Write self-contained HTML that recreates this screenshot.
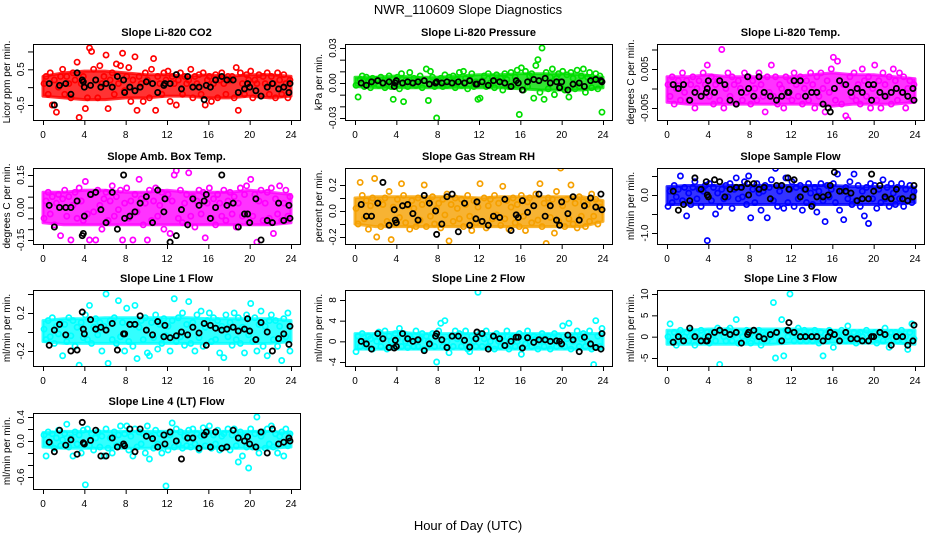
<!DOCTYPE html>
<html><head><meta charset="utf-8">
<style>
html,body{margin:0;padding:0;background:#fff;}
svg{display:block;font-family:"Liberation Sans",Arial,sans-serif;}
</style></head>
<body>
<svg id="chart" width="936" height="540" viewBox="0 0 936 540">
<rect width="936" height="540" fill="#fff"/>
<text x="468" y="14" text-anchor="middle" font-size="13">NWR_110609  Slope Diagnostics</text>
<text x="468" y="530" text-anchor="middle" font-size="13">Hour of Day (UTC)</text>
</svg>
<script>
const blackTimes=[0.6,1.1,1.6,2.2,2.7,3.3,3.8,3.9,4.0,4.6,5.1,5.6,6.1,6.7,7.2,7.8,7.9,8.4,8.9,9.4,10.0,10.6,11.1,11.7,11.8,12.3,12.9,13.4,14.0,14.5,15.1,15.6,15.8,16.2,16.7,17.3,17.8,18.4,18.9,19.5,19.8,20.0,20.6,21.1,21.7,22.2,22.8,23.3,23.8,23.9];
const xTicks=[0,4,8,12,16,20,24];
const bandHours=[0,2,4,6,8,10,12,14,16,18,20,22,24];

const co2Vals=[0.1,0.3,-0.2,0.4,-0.5,0.2,-0.7,0.0,0.3,0.5,-0.2,0.3,0.1,-0.3,0.4,0.2,0.7,-0.85,0.1,0.3,-0.6,-0.3,1.1,1.0,0.5,0.2,-0.3,0.6,0.1,0.3,0.9,-0.6,0.2,0.4,-0.2,0.65,0.1,0.6,0.95,-0.1,0.3,0.55,-0.4,0.2,0.85,-0.65,0.3,0.1,-0.4,0.4,0.2,-0.3,0.5,0.8,-0.65,0.3,0.1,-0.2,0.4,0.2,0.45,-0.4,0.3,0.1,-0.5,0.2,0.4,-0.2,0.3,0.1,0.2,0.5,-0.3,0.3,0.1,0.35,-0.2,0.4,-0.5,0.2,0.3,-0.4,0.1,0.35,-0.3,0.2,0.4,0.1,-0.2,0.3,0.2,0.3,-0.3,0.55,-0.65,0.4,0.1,-0.2,0.35,0.2,0.45,-0.3,0.2,0.1,0.35,-0.25,0.3,0.1,0.4,-0.2,0.3,0.1,-0.3,0.4,0.2,-0.2,0.35,0.1,-0.3,0.2];
const co2Black=[0.1,-0.5,0.05,0.1,-0.2,0.4,0.2,0.15,0.0,0.05,0.2,0.0,0.1,0.0,0.3,0.2,-0.15,0.0,-0.1,0.0,0.15,0.1,-0.15,0.05,0.1,0.1,0.35,-0.05,0.3,0.0,0.0,-0.35,0.05,0.0,0.2,0.3,0.2,0.2,-0.15,-0.05,0.1,0.0,-0.1,-0.25,0.0,0.1,-0.05,0.0,-0.15,0.1];
const co2Lo=[-0.25,-0.3,-0.35,-0.35,-0.3,-0.3,-0.25,-0.25,-0.3,-0.3,-0.25,-0.3,-0.25];
const co2Hi=[0.3,0.4,0.45,0.45,0.4,0.35,0.35,0.3,0.35,0.3,0.35,0.35,0.3];
const presVals=[-2,-12,3,6,-3,5,2,-4,4,0,3,-2,5,0,-4,2,6,-3,-14,1,5,-5,8,-16,2,-3,9,0,4,-2,3,6,-4,2,12,-15,10,5,-3,-30,2,4,-3,7,-2,5,0,6,-4,3,9,-2,10,4,-5,3,8,-3,1,-14,-13,2,6,-3,8,0,5,-4,7,2,4,-6,8,3,-3,9,-2,5,11,-27,13,-6,10,-3,6,8,-13,15,20,-8,30,-14,9,-5,5,12,-10,4,8,-3,10,-6,7,-12,9,4,-5,11,-3,6,12,-8,5,9,-4,3,8,-5,6,-25];
const presBlack=[0,-2,1,2,0,1,-3,0,2,0,1,0,1,2,-1,0,1,0,1,0,1,0,2,-1,-1,1,-2,2,1,0,-3,2,0,-6,1,3,2,4,0,1,-4,1,-6,-1,0,-3,2,3,2,1];
const presLo=[-3,-4,-4,-4,-4,-4,-4,-4,-5,-6,-6,-6,-4];
const presHi=[5,5,6,5,5,6,7,7,8,8,8,7,5];
const tempVals=[1,-2,3,-4,0,2,-3,4,-1,2,-3,1,3,-5,0,2,-2,4,1,6,-2,3,-4,1,2,-3,10,-5,0,4,-2,3,1,-4,2,0,-3,4,-1,3,-4,2,0,-3,4,1,-2,-6,3,-1,6,-2,3,-4,1,0,-5,3,-2,2,-3,4,1,-2,3,-4,0,2,-3,4,1,-5,3,-2,4,0,-6,2,-1,5,8,-3,7,2,-4,1,-7,-8,3,-2,4,-3,1,-4,5,2,-2,3,-5,0,6,-3,2,-5,4,1,-2,3,-4,5,2,-3,4,-1,3,-5,0,2,-3,1];
const tempBlack=[1,0,1,-3,-1,-2,-1,0,2,-1,2,1,-3,-4,-1,3,0,-2,3,-1,-2,-3,-2,-1,-1,2,2,-2,-1,-1,-4,-5,-6,0,2,1,-1,0,-1,1,-3,1,-1,-2,-1,0,-1,-2,0,-3];
const tempLo=[-3.5,-4,-4,-4,-4,-4,-4,-4,-4.5,-4,-4,-4,-3.5];
const tempHi=[3,3,3.5,3,3,3,3,3.5,4,3.5,3.5,3,2.5];
const ambVals=[-5,3,7,-3,5,-8,2,6,-13,4,8,-4,5,-15,1,7,-5,9,3,-6,12,-3,-15,6,-2,-15,8,1,-10,4,7,-6,3,10,-4,5,-1,8,-15,2,9,-5,3,-15,6,-2,13,4,-8,2,-15,8,-6,3,9,-4,1,7,-10,4,6,-12,3,15,17,-5,8,-7,2,6,16,-4,5,-9,3,8,-3,7,-14,2,9,-5,4,-8,6,2,-4,8,-6,3,7,-3,5,-9,2,9,-4,6,10,-7,13,-4,6,-16,3,8,-6,2,7,-5,9,-12,4,-3,10,-6,2,8,-4,5];
const ambBlack=[1,-9,0,0,0,3,-13,-12,-4,6,7,-1,-7,7,-10,15,-5,-4,-2,2,5,-7,8,-2,4,-16,-13,-1,-8,4,1,3,6,-5,0,15,1,2,-9,-3,-3,-7,4,-15,-6,-7,2,-6,1,-5];
const ambLo=[-7,-8,-8,-8,-8,-8,-8,-8,-8,-8,-8,-8,-7];
const ambHi=[7,7,8,8,7,7,8,7,7,7,8,7,6];
const rhVals=[2,-10,22,12,-6,8,-14,4,10,25,-20,7,-12,5,10,-8,15,-22,3,-10,9,-5,21,12,-9,4,-14,8,2,-12,10,-7,5,20,-12,8,-4,11,-10,2,6,-13,9,-3,13,-23,5,-8,10,2,-6,9,-12,5,12,-4,-15,8,-9,3,21,-8,10,-13,4,9,-6,12,-3,6,-11,19,-6,8,-14,3,10,-9,5,-12,12,-4,-15,7,10,-9,4,13,-7,21,-12,6,-25,10,-5,9,-17,15,-8,33,4,-12,9,-6,20,-10,6,-13,11,-4,7,-12,5,-8,13,-4,9,-10,3,1];
const rhBlack=[5,-4,-4,6,22,-11,1,-7,-9,4,5,-2,-7,12,6,0,-18,-10,11,13,-16,6,-11,-6,7,-8,-11,-4,-5,9,-15,-3,-5,8,-1,4,13,-4,4,-7,-11,7,-2,11,-7,4,10,3,13,1];
const rhLo=[-10,-12,-12,-12,-12,-12,-12,-12,-12,-12,-12,-12,-8];
const rhHi=[10,11,11,11,11,11,10,11,11,11,11,11,8];
const sfVals=[-30,10,-20,25,-5,15,50,-15,20,-55,5,-25,20,35,-10,15,-30,10,25,-120,30,-15,20,-50,5,-30,15,-10,25,-5,30,-35,15,45,-10,20,-5,35,-25,50,-60,15,-20,30,5,-40,10,25,-60,20,40,-15,70,-30,10,25,-35,45,-20,15,35,-30,20,-10,25,-40,15,-20,30,5,-25,20,-45,10,30,-15,-70,25,-5,15,30,-20,55,-40,10,-65,20,-10,35,-25,55,-15,25,-30,10,-55,20,-75,30,-10,25,-35,15,-20,40,-10,20,-30,30,5,-25,20,-10,30,-30,15,-15,25,-20,10];
const sfBlack=[10,-40,-25,-15,45,15,35,0,-5,40,35,-5,15,20,20,30,0,30,15,20,-10,25,25,45,15,40,-5,15,-30,-5,-5,0,25,60,10,10,5,-15,-10,-10,55,10,25,-5,-10,15,-10,-15,-5,25];
const sfLo=[-25,-25,-25,-25,-25,-25,-25,-25,-25,-25,-25,-25,-20];
const sfHi=[22,25,25,25,25,25,25,25,25,22,22,22,20];
const l1Vals=[3,-8,12,-5,15,-12,6,-2,10,-25,8,-10,15,-4,12,-15,5,-35,10,-6,18,-8,28,-12,5,14,-3,10,-20,6,40,-33,12,-8,15,-12,33,-5,10,-20,25,-10,8,-15,28,-28,5,12,-8,15,-22,-25,10,-6,18,-18,8,-12,14,-4,6,-20,12,35,-10,15,-5,20,-14,8,32,-12,10,-20,18,-6,22,-15,5,12,20,-10,15,-8,12,-22,6,-27,18,-5,10,-14,20,-8,15,-12,5,-22,18,-3,30,-10,15,-20,8,22,-15,6,-25,12,18,-8,12,-15,6,-30,14,-5,20,-20];
const l1Black=[-14,2,8,-3,-20,-19,21,3,-2,13,3,5,2,9,-19,-2,-2,8,8,17,2,-3,11,-5,7,-6,-4,0,-3,5,-1,9,-14,7,4,2,3,5,1,3,14,1,-8,10,0,-20,-7,-2,-13,6];
const l1Lo=[-10,-12,-12,-12,-12,-12,-12,-12,-12,-12,-12,-12,-10];
const l1Hi=[12,14,14,15,15,15,15,15,14,14,14,14,12];
const l2Vals=[-2,1,-1,1.5,0,-1,1,0.5,-1.5,1,0,1.8,-1,0.5,2,-1.5,1,0,-1,1.5,0.5,2.5,-1,1.5,0,-1.2,1,0.5,-1,2,-1,0.5,1.5,-1.5,1,0,-0.5,1.5,-1,-4,2,3.5,-1,4,0,-2.2,1,-1,2,0.5,1.5,-1,0,2,-1.5,-2,1,0,-1,9.5,1.5,-1,0.5,2,-1,0,1,-1.5,1.5,0,-1,1,0,2,-1.5,0.5,1,-1,0,1.5,-2.5,1,-0.5,2,0,-1,1,0.5,-1.5,0,1.5,-1,0.5,1,-1.5,0,1.5,-1,1,-0.5,3,-1,0.5,3.5,-1.5,0,1,2,-1,0.5,1.5,-1,0,2,-1.5,-4.5,4,1,-1,2.5];
const l2Black=[0,-0.5,-1.5,1.5,0.5,-1.2,-1.3,0.2,-1,1.5,0.5,0,0.3,-1.8,-0.5,1,1.5,0.3,-1.2,1,1,0.2,-1.1,0.5,1.8,1.5,-1.5,1,0.5,-0.8,0,0.8,0.8,-1.3,0.7,-0.2,0.3,0.3,0,0.1,0,-0.5,1.2,0.3,-2,0.8,-0.5,-1.2,-1.5,1.5];
const l2Lo=[-1.5,-1.5,-1.5,-1.5,-1.5,-1.5,-1.5,-1.5,-1.5,-1.5,-1.5,-1.5,-1.5];
const l2Hi=[1.5,1.5,1.8,1.5,1.5,1.5,1.5,1.5,1.5,1.5,1.5,1.5,1.5];
const l3Vals=[0,3,-1,1,-2,0.5,1.5,-1,0,1,-1,1.5,0,-2,1,-0.5,1.5,-1,0,1,-1.5,1,0.5,-1,2,-6.5,1,0,-1,1.5,2,-1,0.5,4,-1.5,1,0,-1,1.5,0,-1.5,1,0,-1,1.5,-2,1,0.5,-1,1,0,8,-5,1,-1,4,-4.5,1.5,0,10,1,-1,0.5,2,-1,0,1.5,-1,0,1,-1,1.5,0,-1.5,1,-4.5,0.5,-1,1.5,0,-2.5,1,0,-1,1.5,0.5,-1,2.5,0,-1,1,-1.5,0.5,1,0,-1,1.5,-1,0.5,0,1,-1.5,0.5,1,-1,2,0,-2.5,1,-0.5,1,-1,0.5,1.5,-1,0,-3,1,3,-0.5];
const l3Black=[-1.3,0,-1,2,0,-1,-1,-1,0,1,1.5,1,0.5,1,-1.5,0.5,1,1.5,0,-0.5,0.5,1,-1,1.5,3.3,1,0,0,0,0,-1,0,1,0.5,-1,1,-0.5,-0.5,-1,-1,0,0,1,0.5,-2,0,0,-2,-1,2.7];
const l3Lo=[-1.8,-1.8,-1.8,-1.8,-1.8,-1.8,-1.5,-1.5,-1.5,-1.5,-1.5,-1.5,-1.8];
const l3Hi=[1.5,1.5,1.8,1.8,1.8,1.8,1.8,1.8,1.5,1.5,1.5,1.5,1.5];
const l4Vals=[10,-25,15,-5,12,-12,5,18,-8,2,12,28,-10,5,-25,15,-5,10,-20,18,-73,20,-8,12,-15,5,15,-10,8,-25,20,-12,5,-20,15,-8,10,25,-5,12,25,-15,8,-25,20,-10,15,-5,12,-20,25,-30,8,-12,18,-5,12,-20,10,-75,-15,10,30,-10,20,-5,15,-12,8,-8,18,-10,20,-5,12,-15,8,22,-8,15,25,-12,10,-5,18,-15,8,12,-10,20,-15,10,20,-8,-35,15,-25,8,-10,-45,20,-10,12,40,-20,8,15,-12,20,-5,25,-10,12,-20,8,15,-25,20,-8,12];
const l4Black=[-2,-18,18,-7,2,-22,31,-3,-5,1,18,-25,-25,5,-10,-5,-8,20,-18,20,8,4,-10,10,-5,15,0,-30,5,5,-12,10,15,-10,15,-12,-10,18,5,0,7,-5,-10,15,-20,20,-5,-2,5,0];
const l4Lo=[-10,-12,-12,-12,-12,-12,-12,-12,-12,-12,-12,-12,-10];
const l4Hi=[14,16,16,16,16,16,16,16,16,16,16,16,14];

const panels=[
 {name:'co2',title:'Slope Li-820 CO2',ylab:'Licor ppm per min.',col:0,row:0,unit:1,vals:co2Vals,blk:co2Black,lo:co2Lo,hi:co2Hi,color:'#ff0000',t1:[0.5,25.3],t2:[-0.5,61],ticks:[1,0.5,0,-0.5],labels:['','0.5','','-0.5']},
 {name:'pressure',title:'Slope Li-820 Pressure',ylab:'kPa per min.',col:1,row:0,unit:0.001,vals:presVals,blk:presBlack,lo:presLo,hi:presHi,color:'#00dd00',t1:[0.03,4],t2:[-0.03,74],ticks:[0.03,0.02,0.01,0,-0.01,-0.02,-0.03],labels:['0.03','','','0.00','','','-0.03']},
 {name:'temp',title:'Slope Li-820 Temp.',ylab:'degrees C per min.',col:2,row:0,unit:0.001,vals:tempVals,blk:tempBlack,lo:tempLo,hi:tempHi,color:'#ff00ff',t1:[0.005,25],t2:[-0.005,64],ticks:[0.01,0.005,0,-0.005],labels:['','0.005','','-0.005']},
 {name:'amb-box-temp',title:'Slope Amb. Box Temp.',ylab:'degrees C per min.',col:0,row:1,unit:0.01,vals:ambVals,blk:ambBlack,lo:ambLo,hi:ambHi,color:'#ff00ff',t1:[0.15,7],t2:[-0.15,72],ticks:[0.15,0.1,0.05,0,-0.05,-0.1,-0.15],labels:['0.15','','','0.00','','','-0.15']},
 {name:'gas-stream-rh',title:'Slope Gas Stream RH',ylab:'percent per min.',col:1,row:1,unit:0.01,vals:rhVals,blk:rhBlack,lo:rhLo,hi:rhHi,color:'#f5a000',t1:[0.2,17],t2:[-0.2,69],ticks:[0.2,0.1,0,-0.1,-0.2],labels:['0.2','','0.0','','-0.2']},
 {name:'sample-flow',title:'Slope Sample Flow',ylab:'ml/min per min.',col:2,row:1,unit:0.01,vals:sfVals,blk:sfBlack,lo:sfLo,hi:sfHi,color:'#0000ff',t1:[0,27],t2:[-1,65],ticks:[0.5,0,-0.5,-1],labels:['','0.0','','-1.0']},
 {name:'line1-flow',title:'Slope Line 1 Flow',ylab:'ml/min per min.',col:0,row:2,unit:0.01,vals:l1Vals,blk:l1Black,lo:l1Lo,hi:l1Hi,color:'#00ffff',t1:[0.2,23],t2:[-0.2,61],ticks:[0.4,0.2,0,-0.2],labels:['','0.2','','-0.2']},
 {name:'line2-flow',title:'Slope Line 2 Flow',ylab:'ml/min per min.',col:1,row:2,unit:1,vals:l2Vals,blk:l2Black,lo:l2Lo,hi:l2Hi,color:'#00ffff',t1:[8,10],t2:[-4,72],ticks:[8,4,0,-4],labels:['8','4','0','-4']},
 {name:'line3-flow',title:'Slope Line 3 Flow',ylab:'ml/min per min.',col:2,row:2,unit:1,vals:l3Vals,blk:l3Black,lo:l3Lo,hi:l3Hi,color:'#00ffff',t1:[10,4],t2:[-5,68],ticks:[10,5,0,-5],labels:['10','5','0','-5']},
 {name:'line4-flow',title:'Slope Line 4 (LT) Flow',ylab:'ml/min per min.',col:0,row:3,unit:0.01,vals:l4Vals,blk:l4Black,lo:l4Lo,hi:l4Hi,color:'#00ffff',t1:[0.4,4],t2:[-0.6,64],ticks:[0.4,0.2,0,-0.2,-0.4,-0.6],labels:['0.4','','0.0','','','-0.6']}
];
const colLeft=[33,345,657], rowTop=[44,168,290,413], BW=267, BH=76;
const NS='http://www.w3.org/2000/svg';
const svg=document.getElementById('chart');
function mk(tag,attrs,parent){const e=document.createElementNS(NS,tag);for(const k in attrs)e.setAttribute(k,attrs[k]);parent.appendChild(e);return e;}

panels.forEach(p=>{
  const L=colLeft[p.col], T=rowTop[p.row];
  const g=mk('g',{},svg);
  
  
  const xs=h=>L+10+h*(248/24);
  const k=(p.t2[1]-p.t1[1])/(p.t2[0]-p.t1[0]);
  const ys=v=>T+p.t1[1]+(v-p.t1[0])*k;
  const clip='clip-'+p.name;
  const cp=mk('clipPath',{id:clip},g);
  mk('rect',{x:L,y:T,width:BW,height:BH},cp);
  const pts=mk('g',{'clip-path':'url(#'+clip+')'},g);
  
  
  // dense cloud band
  let d='';
  bandHours.forEach((h,i)=>{d+=(i?'L':'M')+xs(h).toFixed(1)+','+ys(p.hi[i]*p.unit).toFixed(1);});
  for(let i=bandHours.length-1;i>=0;i--){d+='L'+xs(bandHours[i]).toFixed(1)+','+ys(p.lo[i]*p.unit).toFixed(1);}
  const band=mk('path',{d:d+'Z',fill:p.color,stroke:p.color,'stroke-width':3,'stroke-linejoin':'round','fill-opacity':0.8,'stroke-opacity':0.8},pts);
  
  
  p.vals.forEach((v,i)=>{
    const c=mk('circle',{cx:xs(i*0.2+0.1),cy:ys(v*p.unit),r:2.6,fill:'none',stroke:p.color,'stroke-width':1.7},pts);
    
    
  });
  p.blk.forEach((v,i)=>{
    if(i>=blackTimes.length)return;
    const c=mk('circle',{cx:xs(blackTimes[i]),cy:ys(v*p.unit),r:2.6,fill:'none',stroke:'#000','stroke-width':1.8},pts);
    
    
  });
  const box=mk('rect',{x:L+0.5,y:T+0.5,width:BW,height:BH,fill:'none',stroke:'#000','stroke-width':1},g);
  
  
  const tt=mk('text',{x:L+BW/2,y:T-8,'text-anchor':'middle','font-size':11,'font-weight':'bold'},g);
  tt.textContent=p.title;
  
  
  const xa=mk('g',{},g);
  
  
  mk('line',{x1:xs(0),x2:xs(24),y1:T+BH+0.5,y2:T+BH+0.5,stroke:'#000'},xa);
  xTicks.forEach(h=>{
    mk('line',{x1:xs(h)+0.5,x2:xs(h)+0.5,y1:T+BH,y2:T+BH+5,stroke:'#000'},xa);
    const t=mk('text',{x:xs(h),y:T+BH+18,'text-anchor':'middle','font-size':10},xa);
    t.textContent=h;
    
    
  });
  const ya=mk('g',{},g);
  
  
  const yv=p.ticks.map(ys);
  mk('line',{x1:L+0.5,x2:L+0.5,y1:Math.min(...yv),y2:Math.max(...yv),stroke:'#000'},ya);
  p.ticks.forEach((tv,i)=>{
    const y=ys(tv);
    mk('line',{x1:L-5,x2:L,y1:y+0.5,y2:y+0.5,stroke:'#000'},ya);
    if(p.labels[i]){
      const t=mk('text',{x:0,y:0,'text-anchor':'middle','font-size':10,transform:'translate('+(L-9)+','+y+') rotate(-90)'},ya);
      t.textContent=p.labels[i];
      
      
    }
  });
  const yl=mk('text',{x:0,y:0,'text-anchor':'middle','font-size':10,transform:'translate('+(L-23)+','+(T+BH/2)+') rotate(-90)'},g);
  yl.textContent=p.ylab;
  
  
});
</script>
</body></html>
